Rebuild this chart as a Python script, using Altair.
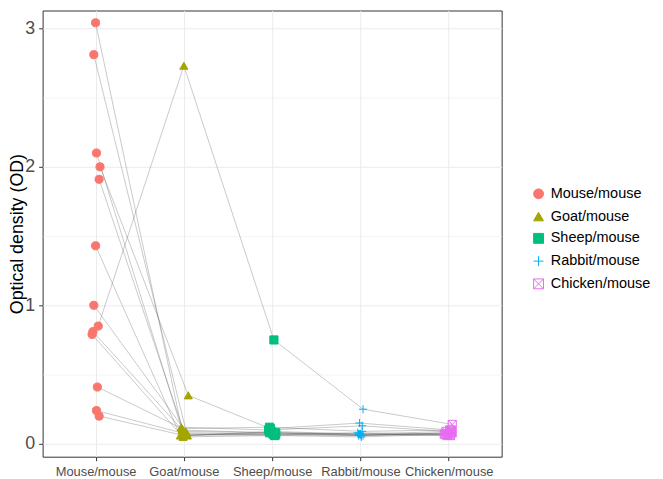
import altair as alt
import pandas as pd

groups = ["Mouse/mouse", "Goat/mouse", "Sheep/mouse", "Rabbit/mouse", "Chicken/mouse"]
colors = ["#F8766D", "#A3A500", "#00BF7D", "#00B0F6", "#E76BF3"]
fills = ["#F8766D", "#A3A500", "#00BF7D", "transparent", "transparent"]
shapes = ["circle", "triangle-up", "square", "M-1,0H1M0,-1V1",
          "M-1,-1H1V1H-1ZM-1,-1L1,1M-1,1L1,-1"]

# optical density per sample (13 samples) for each pairing
mouse_vals = [3.04, 2.81, 2.10, 2.00, 1.91, 1.43, 1.00, 0.85, 0.81, 0.79, 0.41, 0.24, 0.20]
goat_vals = [0.10, 0.08, 0.12, 0.35, 0.07, 0.06, 0.09, 2.73, 0.06, 0.05, 0.11, 0.07, 0.06]
sheep_vals = [0.08, 0.07, 0.10, 0.11, 0.06, 0.07, 0.08, 0.75, 0.09, 0.06, 0.12, 0.07, 0.08]
rabbit_vals = [0.07, 0.06, 0.13, 0.15, 0.07, 0.08, 0.06, 0.25, 0.07, 0.05, 0.09, 0.06, 0.07]
chicken_vals = [0.07, 0.08, 0.09, 0.10, 0.06, 0.07, 0.08, 0.14, 0.06, 0.07, 0.10, 0.07, 0.09]

# horizontal jitter (category units)
mouse_jit = [0.00, -0.02, 0.01, 0.05, 0.04, 0.00, -0.02, 0.03, -0.03, -0.04, 0.02, 0.01, 0.04]
goat_jit = [-0.02, 0.03, -0.03, 0.05, 0.01, -0.04, 0.02, 0.00, 0.04, -0.01, -0.02, 0.03, 0.00]
sheep_jit = [-0.03, 0.02, -0.04, -0.02, 0.03, 0.04, 0.00, 0.02, -0.01, 0.03, -0.03, 0.01, 0.04]
rabbit_jit = [-0.02, 0.01, 0.02, -0.01, 0.00, -0.03, 0.03, 0.03, -0.01, 0.01, 0.02, -0.02, 0.00]
chicken_jit = [-0.04, 0.03, -0.03, 0.01, 0.02, -0.05, 0.04, 0.04, -0.02, 0.00, 0.03, -0.01, 0.02]

all_vals = [mouse_vals, goat_vals, sheep_vals, rabbit_vals, chicken_vals]
all_jits = [mouse_jit, goat_jit, sheep_jit, rabbit_jit, chicken_jit]

rows = []
for gi, (g, vals, jits) in enumerate(zip(groups, all_vals, all_jits)):
    for si, (v, j) in enumerate(zip(vals, jits)):
        rows.append({"sample": si, "group": g, "gi": gi, "xpos": gi + j, "od": v})
df = pd.DataFrame(rows)

FONT = "Liberation Sans"
xscale = alt.Scale(domain=[-0.6, 4.6], nice=False, zero=False)
yscale = alt.Scale(domain=[-0.0929, 3.1286], nice=False, zero=False)

label_expr = "['Mouse/mouse','Goat/mouse','Sheep/mouse','Rabbit/mouse','Chicken/mouse'][round(datum.value)]"
xaxis = alt.Axis(values=[0, 1, 2, 3, 4], labelExpr=label_expr, labelFontSize=13,
                 labelPadding=5, labelFlush=False, labelOverlap=False)
minor_test = "datum.value % 1 != 0"
yaxis = alt.Axis(values=[0, 0.5, 1, 1.5, 2, 2.5, 3],
                 labelExpr="datum.value % 1 == 0 ? format(datum.value, 'd') : ''",
                 tickOpacity={"condition": {"test": minor_test, "value": 0}, "value": 1},
                 gridWidth={"condition": {"test": minor_test, "value": 0.6}, "value": 1},
                 labelFontSize=18, labelPadding=4, titleFontSize=18,
                 titleX=-16, titleBaseline="bottom",
                 titleFontWeight="normal", titleColor="#000000")

lines = alt.Chart(df).mark_line(color="#555555", strokeWidth=0.7, opacity=0.45).encode(
    x=alt.X("xpos:Q", scale=xscale, axis=xaxis, title=None),
    y=alt.Y("od:Q", scale=yscale, axis=yaxis, title="Optical density (OD)"),
    detail="sample:N",
    order="gi:Q",
)

leg = alt.Legend(orient="none", legendX=494, legendY=178, padding=0,
                 labelFontSize=14.6, labelFont=FONT, labelColor="#000000",
                 rowPadding=7, labelOffset=5, symbolStrokeWidth=1)

points = alt.Chart(df).mark_point(opacity=1, strokeWidth=1, size=68).encode(
    x=alt.X("xpos:Q", scale=xscale),
    y=alt.Y("od:Q", scale=yscale),
    fill=alt.Fill("group:N", scale=alt.Scale(domain=groups, range=fills), legend=leg, title=None),
    stroke=alt.Stroke("group:N", scale=alt.Scale(domain=groups, range=colors), legend=leg, title=None),
    shape=alt.Shape("group:N", scale=alt.Scale(domain=groups, range=shapes), legend=leg, title=None),
)

chart = alt.layer(lines, points).properties(
    width=464, height=451,
    autosize=alt.AutoSizeParams(type="none"),
    padding={"left": 35, "top": 0, "right": 155, "bottom": 20},
).configure_view(
    stroke="#333333", strokeWidth=1
).configure_axis(
    domain=False, tickColor="#333333", tickSize=4, labelColor="#4D4D4D",
    gridColor="#EBEBEB", labelFont=FONT, titleFont=FONT,
).configure_legend(
    labelFont=FONT
)

chart.save("out.html", embed_options={"renderer": "svg", "actions": False})
